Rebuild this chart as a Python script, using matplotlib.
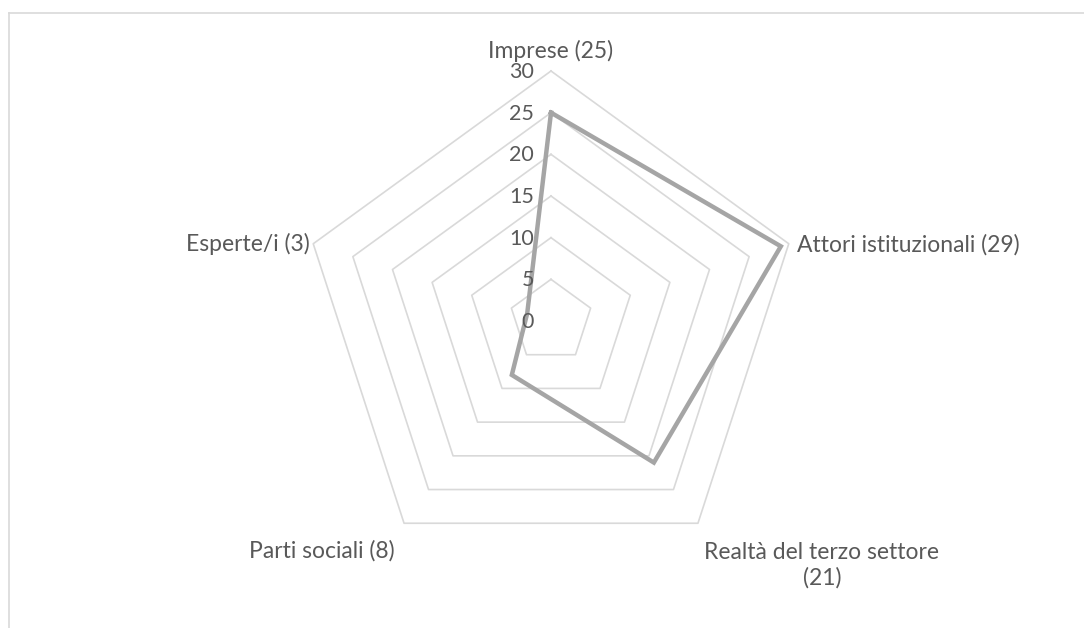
import numpy as np
import matplotlib.pyplot as plt
from matplotlib.lines import Line2D

# chart data
categories = ['Imprese (25)', 'Attori istituzionali (29)', 'Realtà del terzo settore\n(21)',
              'Parti sociali (8)', 'Esperte/i (3)']
values = [25, 29, 21, 8, 3]
tick_values = [0, 5, 10, 15, 20, 25, 30]

plt.rcParams['font.family'] = ['Lato', 'DejaVu Sans']
text_color = '#595959'
grid_color = '#d9d9d9'
line_color = '#a5a5a5'

fig = plt.figure(figsize=(10.84, 6.28), dpi=100)

# square polar axes, centre around (551, 321) px, radius 250 px
W, H = 1084, 628
cx, cy, R = 551, 321, 250
ax = fig.add_axes([(cx - R) / W, (H - cy - R) / H, 2 * R / W, 2 * R / H], projection='polar')
ax.set_theta_offset(np.pi / 2)
ax.set_theta_direction(-1)
ax.set_ylim(0, 30)
ax.grid(False)
ax.spines['polar'].set_visible(False)
ax.set_xticks([])
ax.set_yticks([])
ax.patch.set_alpha(0)

n = len(categories)
angles = np.arange(n) * 2 * np.pi / n
closed = np.append(angles, angles[0])

# pentagon grid
for t in tick_values[1:]:
    ax.plot(closed, [t] * (n + 1), color=grid_color, lw=1.2, clip_on=False, zorder=1)

# data
ax.plot(closed, values + values[:1], color=line_color, lw=3.2, solid_joinstyle='miter',
        clip_on=False, zorder=3)

# radial tick labels
for t in tick_values:
    ax.annotate(str(t), xy=(0, t), xytext=(-17, -1), textcoords='offset pixels',
                ha='right', va='center', fontsize=15.5, color=text_color, annotation_clip=False)

# category labels (offsets in pixels from the outer vertex)
fs = 16.5
offsets = [(0, 20, 'center'), (8, -1, 'left'), (124, -42, 'center'),
           (-82, -28, 'center'), (-3, 0, 'right')]
for ang, lab, (dx, dy, ha) in zip(angles, categories, offsets):
    ax.annotate(lab, xy=(ang, 30), xytext=(dx, dy), textcoords='offset pixels',
                ha=ha, va='center', multialignment='center', linespacing=1.2,
                fontsize=fs, color=text_color, annotation_clip=False)

# chart-area frame (only top and left edges visible)
fig.add_artist(Line2D([9 / W, 1], [1 - 13 / H, 1 - 13 / H], color=grid_color, lw=1.2))
fig.add_artist(Line2D([9 / W, 9 / W], [0, 1 - 13 / H], color=grid_color, lw=1.2))

fig.savefig('out.png', dpi=100, facecolor='white')
